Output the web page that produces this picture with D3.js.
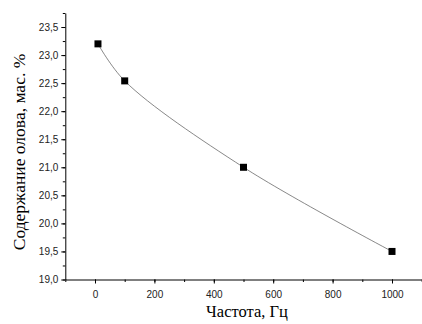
<!DOCTYPE html>
<html>
<head>
<meta charset="utf-8">
<script src="https://cdn.jsdelivr.net/npm/d3@7"></script>
<style>
  body { margin: 0; background: #fff; }
  .tick text { font-family: "Liberation Sans", Arial, sans-serif; font-size: 10px; fill: #222; }
  .domain, .tick line { stroke: #000; }
</style>
</head>
<body>
<div id="chart"></div>
<script>
// data
var freq = [10, 100, 500, 1000];
var tin = [23.2, 22.54, 21.0, 19.5];
var xTicks = [0, 200, 400, 600, 800, 1000];
var yTicks = [19.0, 19.5, 20.0, 20.5, 21.0, 21.5, 22.0, 22.5, 23.0, 23.5];

var svgWidth = 422, svgHeight = 324;

var svg = d3.select("#chart").append("svg")
  .attr("width", svgWidth)
  .attr("height", svgHeight);

var x = d3.scaleLinear().domain([-100, 1100]).range([65.3, 421.7]);
var y = d3.scaleLinear().domain([19, 23.75]).range([279.5, 13]);

var fmt = d => d3.format(".1f")(d).replace(".", ",");

// minor ticks
svg.append("g")
  .attr("transform", "translate(0,279.5)")
  .call(d3.axisBottom(x).tickValues(d3.range(-100, 1101, 100)).tickSize(2.5).tickFormat(""))
  .call(g => g.select(".domain").remove());
svg.append("g")
  .attr("transform", "translate(65.3,0)")
  .call(d3.axisLeft(y).tickValues(d3.range(19, 23.76, 0.25)).tickSize(2.5).tickFormat(""))
  .call(g => g.select(".domain").remove());

// major axes
svg.append("g")
  .attr("transform", "translate(0,279.5)")
  .call(d3.axisBottom(x).tickValues(xTicks).tickSize(4).tickSizeOuter(0).tickPadding(7).tickFormat(d3.format("d")));
svg.append("g")
  .attr("transform", "translate(65.3,0)")
  .call(d3.axisLeft(y).tickValues(yTicks).tickSize(4).tickSizeOuter(0).tickFormat(fmt).tickPadding(3));

// curve
var line = d3.line()
  .x((d, i) => x(freq[i]))
  .y(d => y(d))
  .curve(d3.curveCatmullRom);

svg.append("path")
  .datum(tin)
  .attr("d", line)
  .attr("fill", "none")
  .attr("stroke", "#555")
  .attr("stroke-width", 0.7);

// markers
svg.selectAll("rect.pt")
  .data(tin)
  .enter()
  .append("rect")
  .attr("class", "pt")
  .attr("x", (d, i) => x(freq[i]) - 3.5)
  .attr("y", d => y(d) - 3.5)
  .attr("width", 7)
  .attr("height", 7)
  .attr("fill", "#000");

// axis titles
svg.append("text")
  .attr("x", 247)
  .attr("y", 317)
  .attr("text-anchor", "middle")
  .style("font-family", "'Liberation Serif', 'Times New Roman', serif")
  .style("font-size", "16.5px")
  .text("Частота, Гц");

svg.append("text")
  .attr("transform", "translate(25,152) rotate(-90)")
  .attr("text-anchor", "middle")
  .style("font-family", "'Liberation Serif', 'Times New Roman', serif")
  .style("font-size", "17.5px")
  .text("Содержание олова, мас. %");
</script>
</body>
</html>
